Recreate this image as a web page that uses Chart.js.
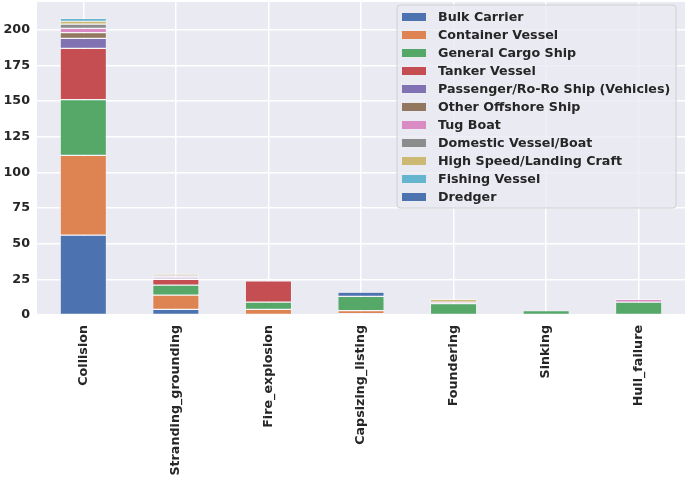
<!DOCTYPE html>
<html>
<head>
<meta charset="utf-8">
<script src="https://cdn.jsdelivr.net/npm/chart.js@4.4.1/dist/chart.umd.min.js"></script>
<style>
  html, body { margin: 0; padding: 0; background: #ffffff; }
  #wrap { width: 685px; height: 480px; position: relative; }
</style>
</head>
<body>
<div id="wrap"><canvas id="c" width="685" height="480"></canvas></div>
<script>
const categories = ["Collision", "Stranding_grounding", "Fire_explosion", "Capsizing_listing", "Foundering", "Sinking", "Hull_failure"];
const seriesNames = ["Bulk Carrier", "Container Vessel", "General Cargo Ship", "Tanker Vessel", "Passenger/Ro-Ro Ship (Vehicles)", "Other Offshore Ship", "Tug Boat", "Domestic Vessel/Boat", "High Speed/Landing Craft", "Fishing Vessel", "Dredger"];
const bulkCarrier   = [56, 4, 0, 1, 0, 0, 0];
const containerVessel = [56, 10, 4, 2, 0, 0, 0];
const generalCargo  = [39, 7, 5, 10, 8, 3, 9];
const tankerVessel  = [36, 4, 15, 0, 0, 0, 0];
const passengerRoRo = [7, 1, 0, 0, 0, 0, 0];
const otherOffshore = [4, 0, 0, 0, 0, 0, 0];
const tugBoat       = [3, 1, 0, 0, 1, 0, 2];
const domesticVessel = [3, 1, 0, 0, 0, 0, 0];
const highSpeed     = [2, 1, 0, 0, 2, 0, 0];
const fishingVessel = [2, 0, 0, 0, 0, 0, 0];
const dredger       = [0, 0, 0, 3, 0, 0, 0];
const yTicks = [0, 25, 50, 75, 100, 125, 150, 175, 200];

const seriesValues = [bulkCarrier, containerVessel, generalCargo, tankerVessel, passengerRoRo, otherOffshore, tugBoat, domesticVessel, highSpeed, fishingVessel, dredger];
const colors = ["#4C72B0", "#DD8452", "#55A868", "#C44E52", "#8172B3", "#937860", "#DA8BC3", "#8C8C8C", "#CCB974", "#64B5CD", "#4C72B0"];

const textColor = "#262626";
const fontFamily = "'DejaVu Sans', sans-serif";
const fontSize = 12.7;

const bgPlugin = {
  id: 'bg',
  beforeDraw(chart) {
    const {ctx, chartArea} = chart;
    ctx.save();
    ctx.fillStyle = '#EAEAF2';
    ctx.fillRect(chartArea.left, chartArea.top, chartArea.right - chartArea.left, chartArea.bottom - chartArea.top);
    ctx.restore();
  }
};

const legendPlugin = {
  id: 'innerLegend',
  afterDraw(chart) {
    const {ctx} = chart;
    const x0 = 397, y0 = 5, w = 279, h = 203;
    ctx.save();
    ctx.fillStyle = 'rgba(234,234,242,0.8)';
    ctx.strokeStyle = '#d0d0d0';
    ctx.lineWidth = 1;
    const r = 3;
    ctx.beginPath();
    ctx.moveTo(x0 + r, y0);
    ctx.lineTo(x0 + w - r, y0);
    ctx.quadraticCurveTo(x0 + w, y0, x0 + w, y0 + r);
    ctx.lineTo(x0 + w, y0 + h - r);
    ctx.quadraticCurveTo(x0 + w, y0 + h, x0 + w - r, y0 + h);
    ctx.lineTo(x0 + r, y0 + h);
    ctx.quadraticCurveTo(x0, y0 + h, x0, y0 + h - r);
    ctx.lineTo(x0, y0 + r);
    ctx.quadraticCurveTo(x0, y0, x0 + r, y0);
    ctx.closePath();
    ctx.fill();
    ctx.stroke();
    ctx.font = "bold " + fontSize + "px " + fontFamily;
    ctx.textBaseline = 'middle';
    ctx.textAlign = 'left';
    chart.data.datasets.forEach((ds, i) => {
      const cy = 17 + i * 18;
      ctx.fillStyle = ds.backgroundColor;
      ctx.fillRect(402, cy - 4, 24, 8);
      ctx.fillStyle = textColor;
      ctx.fillText(ds.label, 438, cy + 0.5);
    });
    ctx.restore();
  }
};

const datasets = seriesNames.map((name, i) => ({
  label: name,
  data: seriesValues[i],
  backgroundColor: colors[i],
  borderColor: '#ffffff',
  borderWidth: 0.6,
  borderSkipped: false,
  barPercentage: 0.5,
  categoryPercentage: 1.0
}));

new Chart(document.getElementById('c'), {
  type: 'bar',
  data: { labels: categories, datasets },
  options: {
    responsive: false,
    animation: false,
    events: [],
    layout: { padding: { top: 2, right: 0, left: 0, bottom: 0 } },
    plugins: { legend: { display: false }, tooltip: { enabled: false } },
    scales: {
      x: {
        stacked: true,
        grid: { display: true, offset: false, color: '#ffffff', lineWidth: 1.5, drawTicks: false },
        border: { display: false },
        ticks: {
          color: textColor, padding: 10, minRotation: 90, maxRotation: 90, autoSkip: false,
          font: { family: fontFamily, size: fontSize, weight: 'bold' }
        },
        afterFit(scale) { scale.height = 165; scale.paddingLeft = 0; scale.paddingRight = 0; }
      },
      y: {
        stacked: true,
        min: 0,
        max: 219.5,
        grid: { color: '#ffffff', lineWidth: 1.5, drawTicks: false },
        border: { display: false },
        afterBuildTicks(scale) { scale.ticks = yTicks.map(v => ({ value: v })); },
        ticks: {
          color: textColor, padding: 7,
          font: { family: fontFamily, size: fontSize, weight: 'bold' }
        },
        afterFit(scale) { scale.width = 37; scale.paddingTop = 0; scale.paddingBottom = 0; }
      }
    }
  },
  plugins: [bgPlugin, legendPlugin]
});
</script>
</body>
</html>
